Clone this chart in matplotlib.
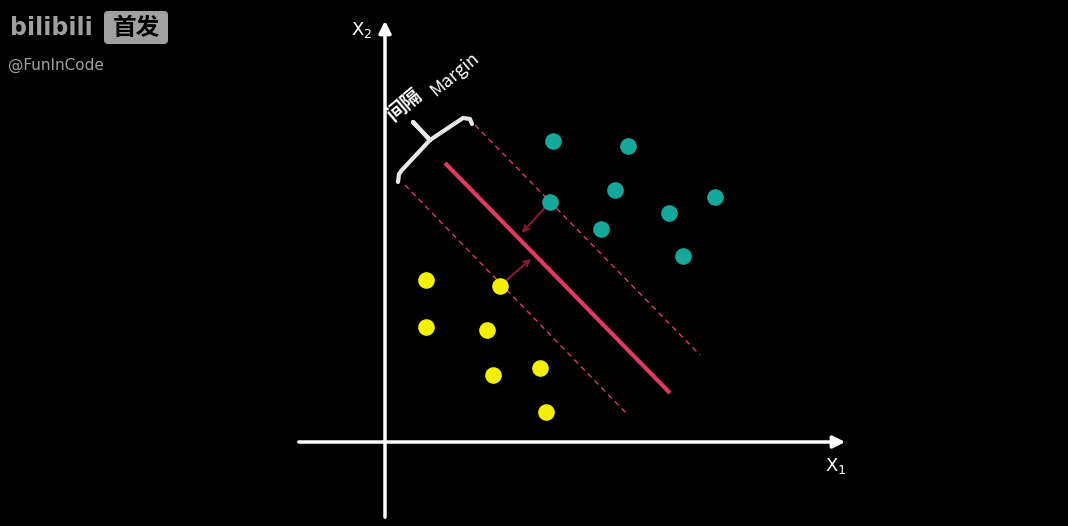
import matplotlib.pyplot as plt
from matplotlib.patches import FancyBboxPatch

plt.rcParams['font.family'] = ['Noto Sans CJK SC', 'DejaVu Sans']

# data (picture pixel coordinates)
teal_x = [553, 628, 615, 550, 669, 715, 601, 683]
teal_y = [141, 146, 190, 202, 213, 197, 229, 256]
yellow_x = [426, 500, 426, 487, 493, 540, 546]
yellow_y = [280, 286, 327, 330, 375, 368, 412]
hyper = [(445, 163), (670, 393)]
upper = [(475, 125), (700, 355)]
lower = [(405, 185), (628, 415)]
brace_x = [398, 399, 402, 430, 413, 430, 463, 470, 472]
brace_y = [182, 174, 170, 140, 122, 140, 118, 119, 124]

fig = plt.figure(figsize=(10.68, 5.26), dpi=100, facecolor='black')
ax = fig.add_axes([0, 0, 1, 1])
ax.set_facecolor('black')
ax.set_xlim(0, 1068)
ax.set_ylim(526, 0)
ax.axis('off')

# axes arrows
ax.annotate('', xy=(848, 442), xytext=(296, 442),
            arrowprops=dict(arrowstyle='-|>', color='white', lw=2.5, mutation_scale=18))
ax.annotate('', xy=(385, 18), xytext=(385, 520),
            arrowprops=dict(arrowstyle='-|>', color='white', lw=2.5, mutation_scale=18))
ax.text(362, 30, 'X$_2$', color='white', fontsize=13, ha='center', va='center', family='DejaVu Sans')
ax.text(836, 466, 'X$_1$', color='white', fontsize=13, ha='center', va='center', family='DejaVu Sans')

# separating line and margins
ax.plot(*zip(*hyper), color='#e03a62', lw=3, solid_capstyle='butt')
ax.plot(*zip(*upper), color='#e03a62', lw=1, ls=(0, (4, 3)))
ax.plot(*zip(*lower), color='#e03a62', lw=1, ls=(0, (4, 3)))

# distance arrows
ax.annotate('', xy=(520, 235), xytext=(550, 202),
            arrowprops=dict(arrowstyle='->', color='#8a1a30', lw=1.5))
ax.annotate('', xy=(533, 257), xytext=(500, 286),
            arrowprops=dict(arrowstyle='->', color='#8a1a30', lw=1.5))

ax.scatter(teal_x, teal_y, s=120, color='#16a99b', zorder=3)
ax.scatter(yellow_x, yellow_y, s=120, color='#f5f000', zorder=3)

# brace and label
ax.plot(brace_x, brace_y, color='#e8e8e8', lw=3, solid_joinstyle='round', solid_capstyle='round')
ax.text(405, 105, '间隔', color='white', fontsize=14, fontweight='bold', rotation=40,
        ha='center', va='center')
ax.text(455, 74, 'Margin', color='white', fontsize=13, rotation=40, ha='center', va='center')

# watermark
ax.text(10, 28, 'bilibili', color='#a0a0a0', fontsize=17, fontweight='bold', va='center',
        family='DejaVu Sans')
ax.add_patch(FancyBboxPatch((104, 11), 64, 33, boxstyle='round,pad=0,rounding_size=4',
                            facecolor='#a0a0a0', edgecolor='none'))
ax.text(136, 28, '首发', color='black', fontsize=17, fontweight='bold', ha='center', va='center')
ax.text(8, 65, '@FunInCode', color='#a0a0a0', fontsize=11, va='center', family='DejaVu Sans')

fig.savefig('out.png', dpi=100, facecolor='black')
